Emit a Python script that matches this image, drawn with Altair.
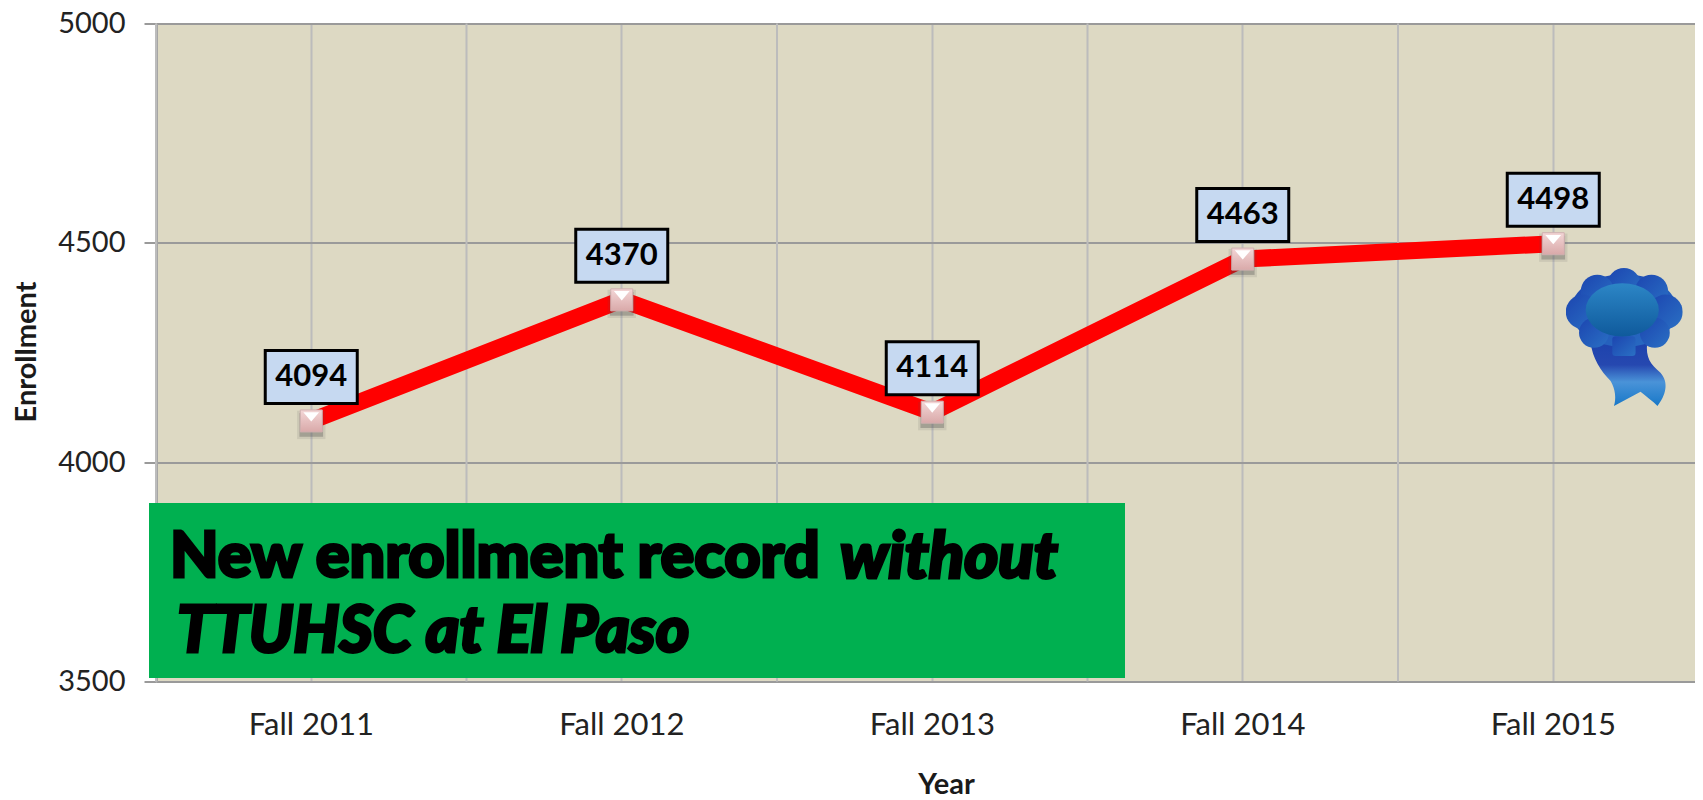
import base64
import altair as alt
import pandas as pd

years = ["Fall 2011", "Fall 2012", "Fall 2013", "Fall 2014", "Fall 2015"]
enrollment = [4094, 4370, 4114, 4463, 4498]
y_ticks = [3500, 4000, 4500, 5000]
ribbon_year = ["Fall 2015"]
ribbon_value = [4285]
banner_top = [3907]
banner_bottom = [3508]
banner_text = ["New enrollment record", "without", "TTUHSC at El Paso"]
banner_value = [3782, 3782, 3611]
banner_x = [14, 684, 21]
banner_style = ["normal", "italic", "italic"]
banner_size = [63, 65, 64]

FONT = "Lato"
df = pd.DataFrame({"year": years, "value": enrollment})

ribbon_svg = """<svg xmlns='http://www.w3.org/2000/svg' viewBox='0 0 352 416'>
<defs>
<linearGradient id='t' x1='0' y1='0' x2='0' y2='1'><stop offset='0' stop-color='#1d43ad'/><stop offset='.35' stop-color='#2648b0'/><stop offset='.62' stop-color='#4a93d8'/><stop offset='1' stop-color='#1878c8'/></linearGradient>
<linearGradient id='c' x1='0' y1='0' x2='0' y2='1'><stop offset='0' stop-color='#2c86c6'/><stop offset='1' stop-color='#0f5a9c'/></linearGradient>
<linearGradient id='p' x1='0' y1='0' x2='1' y2='1'><stop offset='0' stop-color='#1c45b0'/><stop offset='1' stop-color='#2a70c4'/></linearGradient>
</defs>
<path fill='url(#t)' d='M75 225C80 270 105 310 135 340C150 365 152 395 145 415L225 372C240 385 262 400 276 415C300 385 312 345 285 315C255 290 240 270 245 225Z'/>
<g fill='url(#p)'>
<ellipse cx='175' cy='128' rx='160' ry='110'/>
<circle cx='175' cy='50' r='50'/><circle cx='95' cy='70' r='50'/><circle cx='258' cy='70' r='50'/>
<circle cx='52' cy='132' r='52'/><circle cx='300' cy='132' r='52'/>
<circle cx='85' cy='195' r='45'/><circle cx='268' cy='195' r='45'/>
<rect x='140' y='205' width='70' height='60' rx='10'/>
</g>
<ellipse cx='170' cy='126' rx='110' ry='80' fill='url(#c)'/>
</svg>"""
ribbon_url = "data:image/svg+xml;base64," + base64.b64encode(ribbon_svg.encode()).decode()

x_scale = alt.Scale(domain=years, range=[0, 1552.5], paddingInner=0, paddingOuter=0)
y_scale = alt.Scale(domain=[3500, 5000], nice=False, zero=False)

x_axis = alt.Axis(
    title="Year", labelAngle=0, labelFont=FONT, labelFontSize=31, labelColor="#222222",
    labelPadding=29, ticks=False, grid=True, gridColor="#bcbcbc", gridWidth=2,
    domainColor="#9a9a9a", domainWidth=2, titleFont=FONT, titleFontSize=29, titleFontWeight="bold",
    titleColor="#1a1a1a", titleX=790, titleY=103, titleBaseline="middle",
)
y_axis = alt.Axis(
    title="Enrollment", values=y_ticks, labelFont=FONT, labelFontSize=29, labelColor="#222222",
    labelPadding=19, tickSize=12, tickColor="#9a9a9a", tickWidth=2, grid=True, gridColor="#9a9a9a",
    gridWidth=2, domainColor="#a6a6a6", domainWidth=3, format="d", titleFont=FONT, titleFontSize=29,
    titleFontWeight="bold", titleColor="#1a1a1a", titleX=-130, titleY=328, titleBaseline="middle",
)

X = alt.X("year:N", scale=x_scale, sort=years, axis=x_axis)
Y = alt.Y("value:Q", scale=y_scale, axis=y_axis)

base = alt.Chart(df)
edges = base.mark_rule(color="#bcbcbc", strokeWidth=2).encode(
    x=alt.X("year:N", scale=x_scale, sort=years, axis=x_axis, bandPosition=0),
    y=alt.value(0), y2=alt.value(658),
)
line = base.mark_line(color="#ff0000", strokeWidth=17).encode(x=X, y=Y)
shadow2 = base.mark_point(shape="square", filled=True, size=800, color="#555555", opacity=0.12, yOffset=4).encode(x=X, y=Y)
shadow = base.mark_point(shape="square", filled=True, size=560, color="#444444", opacity=0.3, yOffset=4).encode(x=X, y=Y)
marker_fill = alt.Gradient(
    gradient="linear", x1=0, y1=0, x2=0, y2=1,
    stops=[alt.GradientStop(color="#f3d6d6", offset=0), alt.GradientStop(color="#d9a9a9", offset=1)],
)
marker = base.mark_point(shape="square", filled=True, size=484, fill=marker_fill, stroke="#d0b0b0", strokeWidth=1, opacity=1).encode(x=X, y=Y)
tri = base.mark_point(shape="M-0.72,-0.8L0.72,-0.8L0,0.05Z", filled=True, size=484, color="#ffffff", opacity=1).encode(x=X, y=Y)
box = base.mark_rect(width=92, height=53, fill="#c6d9f1", stroke="#000000", strokeWidth=3, yOffset=-44).encode(x=X, y=Y)
labels = base.mark_text(font=FONT, fontSize=31, fontWeight="bold", color="#000000", yOffset=-44, baseline="middle").encode(
    x=X, y=Y, text=alt.Text("value:Q", format="d"))

banner = alt.Chart(pd.DataFrame({"top": banner_top, "bottom": banner_bottom})).mark_rect(color="#00b050").encode(
    x=alt.value(-7), x2=alt.value(969),
    y=alt.Y("top:Q", scale=y_scale, axis=y_axis), y2="bottom:Q",
)
banner_layers = [
    alt.Chart(pd.DataFrame({"t": [t], "value": [v]})).mark_text(
        font=FONT, fontSize=fs, fontWeight=900, fontStyle=st, color="#000000", align="left",
        baseline="middle", stroke="#000000", strokeWidth=3,
    ).encode(x=alt.value(px), y=Y, text="t:N")
    for t, v, px, st, fs in zip(banner_text, banner_value, banner_x, banner_style, banner_size)
]
ribbon = alt.Chart(pd.DataFrame({"year": ribbon_year, "value": ribbon_value, "u": [ribbon_url]})).mark_image(
    width=117, height=139, xOffset=71, align="center", baseline="middle",
).encode(x=X, y=Y, url="u:N")

chart = alt.layer(edges, line, shadow2, shadow, marker, tri, box, labels, banner, *banner_layers, ribbon).properties(
    width=1539, height=658,
    autosize=alt.AutoSizeParams(type="none"),
    padding={"left": 148, "top": 15.5, "right": 0, "bottom": 118},
).configure_view(fill="#ddd9c3", stroke=None)

chart.save("out.html", embed_options={"renderer": "svg", "actions": False})
